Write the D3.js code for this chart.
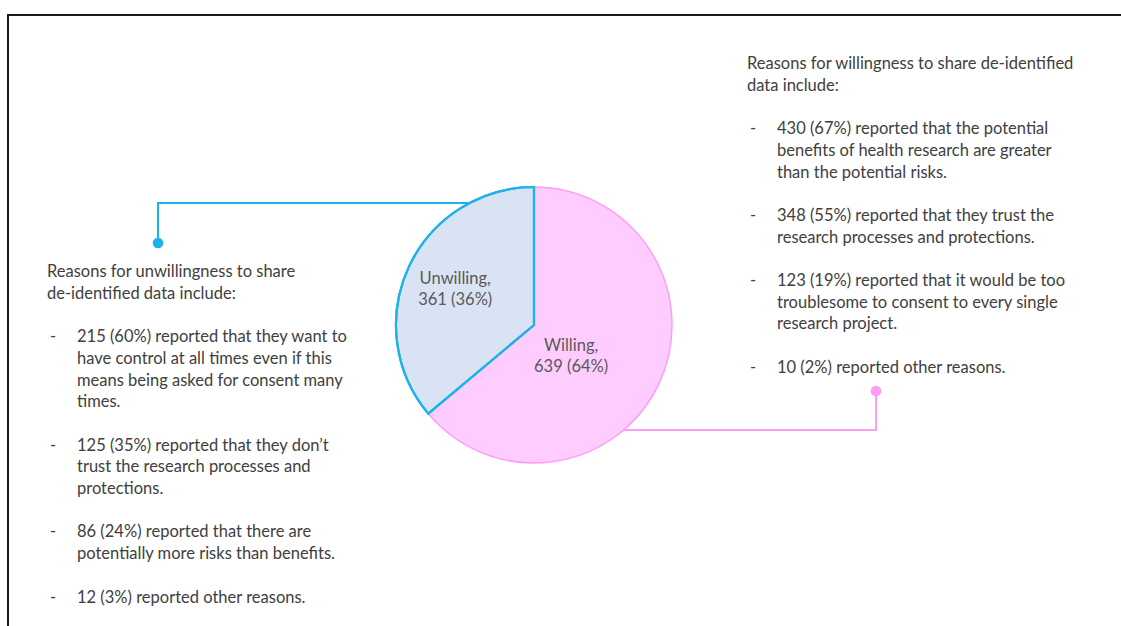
<!DOCTYPE html>
<html>
<head>
<meta charset="utf-8">
<script src="https://cdn.jsdelivr.net/npm/d3@7"></script>
<style>
  html, body { margin: 0; padding: 0; background: #fff; }
  svg { display: block; }
  text { font-family: "Lato", "Open Sans", sans-serif; }
</style>
</head>
<body>
<svg id="chart" width="1121" height="626"></svg>
<script>
// Survey responses: willingness to share de-identified data
const categories = ["Willing", "Unwilling"];
const counts = [639, 361];
const shares = [64, 36];

// Reasons given by each group (count, percent, wording split into display lines)
const willingTitle = ["Reasons for willingness to share de-identified", "data include:"];
const willingCounts = [430, 348, 123, 10];
const willingPcts = [67, 55, 19, 2];
const willingText = [
  ["reported that the potential", "benefits of health research are greater", "than the potential risks."],
  ["reported that they trust the", "research processes and protections."],
  ["reported that it would be too", "troublesome to consent to every single", "research project."],
  ["reported other reasons."]
];

const unwillingTitle = ["Reasons for unwillingness to share", "de-identified data include:"];
const unwillingCounts = [215, 125, 86, 12];
const unwillingPcts = [60, 35, 24, 3];
const unwillingText = [
  ["reported that they want to", "have control at all times even if this", "means being asked for consent many", "times."],
  ["reported that they don\u2019t", "trust the research processes and", "protections."],
  ["reported that there are", "potentially more risks than benefits."],
  ["reported other reasons."]
];

const fills = ["#ffccff", "#dae3f3"];
const strokes = ["#ff9cf6", "#1cb2ea"];

const svg = d3.select("#chart");

// Frame
svg.append("rect")
  .attr("x", 8).attr("y", 15)
  .attr("width", 1300).attr("height", 800)
  .attr("fill", "none").attr("stroke", "#1a1a1a").attr("stroke-width", 2);

// Pie
const cx = 534, cy = 325, R = 138;
const pie = d3.pie().sort(null).value(d => d.count);
const data = categories.map((c, i) => ({ name: c, count: counts[i], pct: shares[i], i }));
const arcs = pie(data);
const arc = d3.arc().innerRadius(0).outerRadius(R);

const g = svg.append("g").attr("transform", `translate(${cx},${cy})`);

// Connector lines from each slice edge to its text block
function edgeX(y, side) {
  const dy = y - cy;
  return cx + side * Math.sqrt(R * R - dy * dy);
}
const blueY = 203, blueX = 158, blueDot = 243;
const pinkY = 430, pinkX = 876, pinkDot = 391;

svg.append("path")
  .attr("d", `M${edgeX(blueY, -1)},${blueY}H${blueX}V${blueDot}`)
  .attr("fill", "none").attr("stroke", strokes[1]).attr("stroke-width", 2);
svg.append("circle").attr("cx", blueX).attr("cy", blueDot).attr("r", 5.3).attr("fill", strokes[1]);

svg.append("path")
  .attr("d", `M${edgeX(pinkY, 1)},${pinkY}H${pinkX}V${pinkDot}`)
  .attr("fill", "none").attr("stroke", strokes[0]).attr("stroke-width", 2);
svg.append("circle").attr("cx", pinkX).attr("cy", pinkDot).attr("r", 5.3).attr("fill", strokes[0]);

g.selectAll("path.slice")
  .data(arcs)
  .join("path")
  .attr("class", "slice")
  .attr("d", arc)
  .attr("fill", d => fills[d.data.i])
  .attr("stroke", d => strokes[d.data.i])
  .attr("stroke-width", d => d.data.i === 1 ? 2.2 : 1.5)
  .attr("stroke-linejoin", "miter");

// Redraw the unwilling outline on top so its edge stays visible
g.append("path")
  .attr("d", arc(arcs[1]))
  .attr("fill", "none")
  .attr("stroke", strokes[1])
  .attr("stroke-width", 2.2);

// Slice labels: placed radially from the slice's mid-angle, with a small angular nudge
const labelRadius = [0.345, 0.63];
const labelNudge = [0.24, 0];
arcs.forEach(a => {
  const k = a.data.i;
  const ang = (a.startAngle + a.endAngle) / 2 + labelNudge[k];
  const [lx, ly] = d3.pointRadial(ang, R * labelRadius[k]);
  const t = g.append("text")
    .attr("text-anchor", "middle")
    .attr("fill", "#595959")
    .attr("font-size", 16.5);
  t.append("tspan").attr("x", lx).attr("y", ly - 4).text(a.data.name + ",");
  t.append("tspan").attr("x", lx).attr("y", ly + 17).text(`${a.data.count} (${a.data.pct}%)`);
});

// Text blocks
const LH = 21.7;
function textBlock(x0, yTitle, title, nums, pcts, lines) {
  const grp = svg.append("g").attr("fill", "#404040").attr("font-size", 16.5);
  let y = yTitle;
  title.forEach(l => {
    grp.append("text").attr("x", x0).attr("y", y).text(l);
    y += LH;
  });
  y += LH;
  lines.forEach((item, k) => {
    grp.append("text").attr("x", x0 + 3).attr("y", y).text("-");
    item.forEach((l, j) => {
      const s = j === 0 ? `${nums[k]} (${pcts[k]}%) ${l}` : l;
      grp.append("text").attr("x", x0 + 30).attr("y", y).text(s);
      y += LH;
    });
    y += LH;
  });
}

textBlock(47, 277, unwillingTitle, unwillingCounts, unwillingPcts, unwillingText);
textBlock(747, 69, willingTitle, willingCounts, willingPcts, willingText);
</script>
</body>
</html>
